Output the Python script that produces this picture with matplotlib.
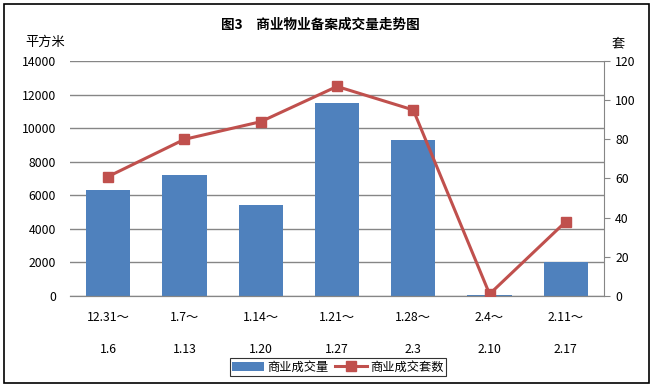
import numpy as np
import matplotlib
matplotlib.use("Agg")
import matplotlib.pyplot as plt
from matplotlib.patches import Rectangle

plt.rcParams['font.family'] = ['Noto Sans CJK SC', 'DejaVu Sans']

# == data
periods_start = ["12.31～", "1.7～", "1.14～", "1.21～", "1.28～", "2.4～", "2.11～"]
periods_end = ["1.6", "1.13", "1.20", "1.27", "2.3", "2.10", "2.17"]
area = [6300, 7200, 5400, 11500, 9300, 50, 2050]      # 平方米
units = [61, 80, 89, 107, 95, 1, 38]                   # 套

barColor = "#4F81BD"
lineColor = "#C0504D"
gridColor = "#868686"

fig = plt.figure(figsize=(6.53, 3.87), dpi=100)
ax1 = fig.add_axes([70 / 653, 1 - 296 / 387, 534 / 653, 235 / 387])
ax2 = ax1.twinx()

x = np.arange(len(area))
ax1.bar(x, area, width=0.58, color=barColor, zorder=2, label="商业成交量")
ax2.plot(x, units, color=lineColor, lw=2.2, marker="s", ms=7, label="商业成交套数", zorder=3)

ax1.set_xlim(-0.5, len(area) - 0.5)
ax1.set_ylim(0, 14000)
ax2.set_ylim(0, 120)
ax1.set_yticks(range(0, 14001, 2000))
ax2.set_yticks(range(0, 121, 20))
ax1.yaxis.grid(True, color=gridColor, lw=1)
ax1.set_axisbelow(True)

for a in (ax1, ax2):
    for s in ("top", "left", "right"):
        a.spines[s].set_visible(False)
    a.spines["bottom"].set_color(gridColor)
ax2.spines["right"].set_visible(True)
ax2.spines["right"].set_color(gridColor)

ax1.tick_params(axis="y", length=0, pad=10, labelsize=8.8)
ax2.tick_params(axis="y", length=4, color=gridColor, pad=4, labelsize=8.8)
ax1.set_xticks(x)
ax1.set_xticklabels([f"{a}\n\n{b}" for a, b in zip(periods_start, periods_end)],
                    fontsize=8.8, linespacing=1.3)
ax1.tick_params(axis="x", length=0, pad=11)

fig.text(320 / 653, 1 - 25 / 387, "图3　商业物业备案成交量走势图", ha="center", va="center",
         fontsize=9.8, fontweight="bold")
fig.text(45 / 653, 1 - 42 / 387, "平方米", ha="center", va="center", fontsize=9.5)
fig.text(618 / 653, 1 - 44 / 387, "套", ha="center", va="center", fontsize=9.5)

h1, l1 = ax1.get_legend_handles_labels()
h2, l2 = ax2.get_legend_handles_labels()
leg = fig.legend(h1 + h2, l1 + l2, loc="center", bbox_to_anchor=(338 / 653, 1 - 367 / 387),
                 ncol=2, fontsize=8.8, frameon=True, fancybox=False, edgecolor="black",
                 handlelength=2.6, handletextpad=0.3, columnspacing=0.5, borderpad=0.2)
leg.get_frame().set_linewidth(0.8)

fig.patches.append(Rectangle((4 / 653, 4 / 387), 645 / 653, 379 / 387, transform=fig.transFigure,
                             fill=False, edgecolor="black", lw=1.2))

fig.savefig("out.png", dpi=100)
